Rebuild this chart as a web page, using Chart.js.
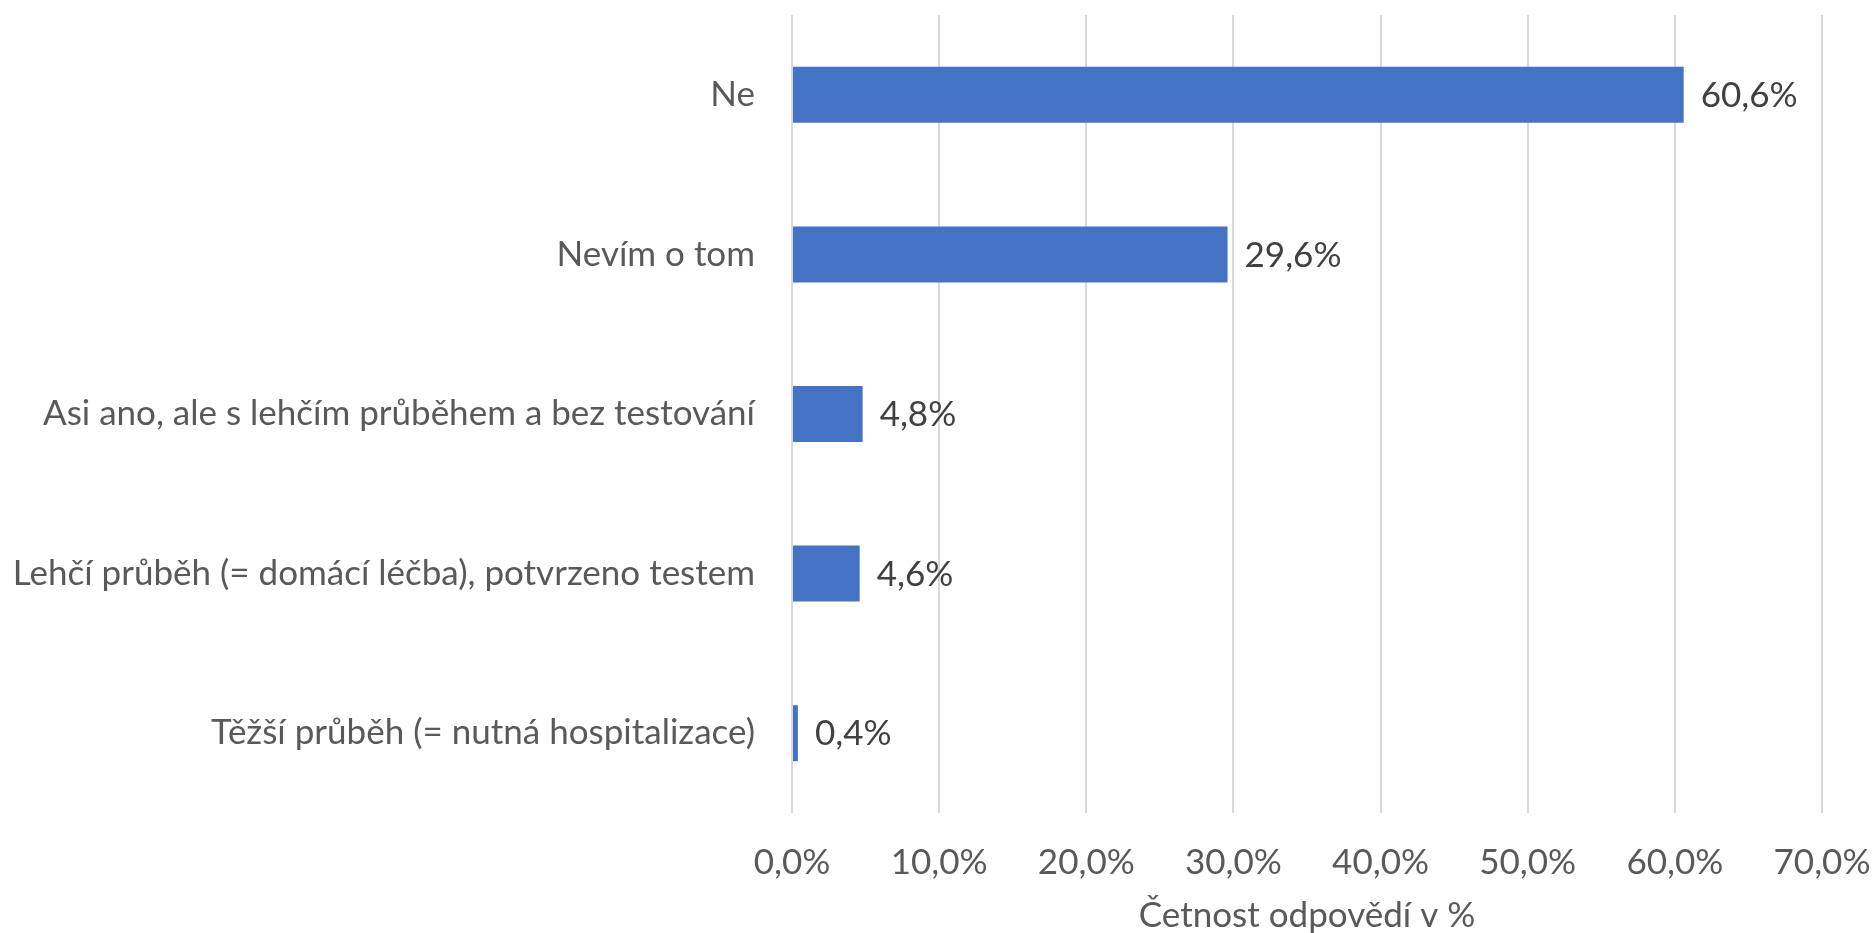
<!DOCTYPE html>
<html>
<head>
<meta charset="utf-8">
<script src="https://cdn.jsdelivr.net/npm/chart.js@4"></script>
<style>
html,body{margin:0;padding:0;background:#fff;}
#wrap{width:1872px;height:933px;position:relative;}
</style>
</head>
<body>
<div id="wrap"><canvas id="c" width="1872" height="933"></canvas></div>
<script>
const categories = [
  "Ne",
  "Nevím o tom",
  "Asi ano, ale s lehčím průběhem a bez testování",
  "Lehčí průběh (= domácí léčba), potvrzeno testem",
  "Těžší průběh (= nutná hospitalizace)"
];
const values = [60.6, 29.6, 4.8, 4.6, 0.4];
const xTicks = [0, 10, 20, 30, 40, 50, 60, 70];
const axisTitle = "Četnost odpovědí v %";

const FONT = "Lato";
const FS = 35;
const fmt = v => v.toFixed(1).replace('.', ',') + '%';

const barLabels = {
  id: 'barLabels',
  afterDatasetsDraw(chart) {
    const ctx = chart.ctx;
    const meta = chart.getDatasetMeta(0);
    ctx.save();
    ctx.font = FS + 'px ' + FONT;
    ctx.fillStyle = '#404040';
    ctx.textAlign = 'left';
    ctx.textBaseline = 'middle';
    meta.data.forEach((el, i) => {
      ctx.fillText(fmt(values[i]), el.x + 17, el.y + 1);
    });
    ctx.restore();
  }
};

const zeroPad = s => { s.paddingTop = 0; s.paddingBottom = 0; s.paddingLeft = 0; s.paddingRight = 0; };

new Chart(document.getElementById('c'), {
  type: 'bar',
  data: {
    labels: categories,
    datasets: [{
      data: values,
      backgroundColor: '#4472C4',
      borderWidth: 0,
      barPercentage: 0.351,
      categoryPercentage: 1.0
    }]
  },
  options: {
    indexAxis: 'y',
    responsive: false,
    animation: false,
    events: [],
    layout: { padding: { top: 15, right: 50, left: 0, bottom: 0 } },
    plugins: { legend: { display: false }, tooltip: { enabled: false } },
    scales: {
      x: {
        min: 0, max: 70,
        afterBuildTicks: s => { s.ticks = xTicks.map(v => ({ value: v })); },
        afterFit: s => { s.height = 120; zeroPad(s); },
        grid: { color: '#D9D9D9', lineWidth: 2, drawTicks: false },
        border: { display: false },
        ticks: {
          padding: 29,
          color: '#595959',
          font: { family: FONT, size: FS },
          callback: v => fmt(v)
        },
        title: {
          display: true,
          text: axisTitle,
          color: '#595959',
          font: { family: FONT, size: FS },
          padding: { top: 0, bottom: -4 }
        }
      },
      y: {
        afterFit: s => { s.width = 792; zeroPad(s); },
        grid: { display: false, drawTicks: false },
        border: { display: false },
        ticks: {
          padding: 37,
          color: '#595959',
          font: { family: FONT, size: FS }
        }
      }
    }
  },
  plugins: [barLabels]
});
</script>
</body>
</html>
